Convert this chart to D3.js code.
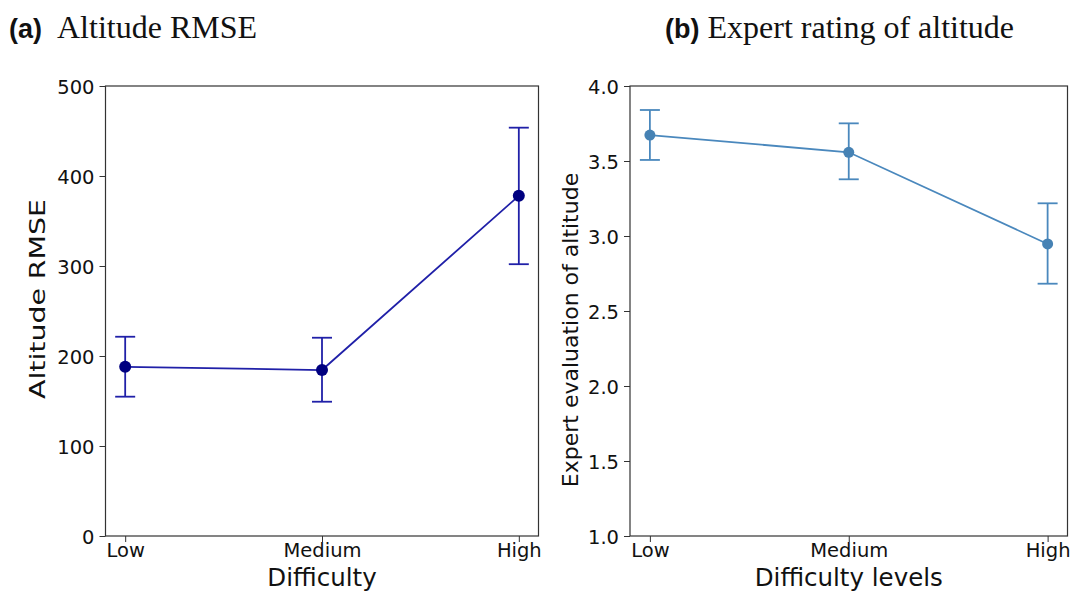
<!DOCTYPE html>
<html>
<head>
<meta charset="utf-8">
<script src="https://cdn.jsdelivr.net/npm/d3@7"></script>
<style>
  body { margin: 0; background: #fff; }
  svg { display: block; }
</style>
</head>
<body>
<script>
// values
var levels = ['Low', 'Medium', 'High'];

var rmseMean = [188, 184.4, 378];
var rmseLow = [154.8, 149.2, 302];
var rmseHigh = [221.4, 220.3, 453.7];
var rmseTicks = [0, 100, 200, 300, 400, 500];

var ratingMean = [3.673, 3.558, 2.947];
var ratingLow = [3.507, 3.378, 2.682];
var ratingHigh = [3.84, 3.751, 3.218];
var ratingTicks = [1.0, 1.5, 2.0, 2.5, 3.0, 3.5, 4.0];

var W = 1071, H = 592;
var TOP = 86, BOTTOM = 536;

var svg = d3.select('body').append('svg')
    .attr('width', W)
    .attr('height', H);

const drawPanel = (opt) => {
  var x = d3.scalePoint()
      .domain(levels)
      .range([opt.left, opt.right])
      .padding(0.1);
  var y = d3.scaleLinear()
      .domain(opt.domain)
      .range([BOTTOM, TOP]);

  var g = svg.append('g');

  // y axis
  var yAxis = d3.axisLeft(y).tickValues(opt.ticks).tickFormat(opt.fmt).tickSize(6).tickPadding(5);
  var ya = g.append('g')
      .attr('transform', 'translate(' + opt.left + ',0)')
      .call(yAxis);
  ya.select('.domain').remove();

  // x axis
  var xAxis = d3.axisBottom(x).tickSize(6).tickPadding(4);
  var xa = g.append('g')
      .attr('transform', 'translate(0,' + BOTTOM + ')')
      .call(xAxis);
  xa.select('.domain').remove();

  g.selectAll('.tick line').attr('stroke', '#333').attr('stroke-width', 1);
  g.selectAll('.tick text')
      .attr('fill', '#111')
      .style('font-family', 'DejaVu Sans')
      .style('font-size', '19.5px');
  ya.selectAll('.tick text').attr('dy', '0.36em');
  xa.selectAll('.tick text').attr('y', 6).attr('dy', '0.76em');

  // frame
  g.append('rect')
      .attr('x', opt.left)
      .attr('y', TOP)
      .attr('width', opt.right - opt.left)
      .attr('height', BOTTOM - TOP)
      .attr('fill', 'none')
      .attr('stroke', '#333')
      .attr('stroke-width', 1.2);

  var rows = levels.map((d, i) => ({ k: d, m: opt.mean[i], lo: opt.lo[i], hi: opt.hi[i] }));

  // error bars
  var eb = g.append('g').attr('stroke', opt.color).attr('stroke-width', 1.8);
  eb.selectAll('.v').data(rows).enter().append('line')
      .attr('x1', d => x(d.k)).attr('x2', d => x(d.k))
      .attr('y1', d => y(d.lo)).attr('y2', d => y(d.hi));
  eb.selectAll('.ct').data(rows).enter().append('line')
      .attr('x1', d => x(d.k) - 10).attr('x2', d => x(d.k) + 10)
      .attr('y1', d => y(d.hi)).attr('y2', d => y(d.hi));
  eb.selectAll('.cb').data(rows).enter().append('line')
      .attr('x1', d => x(d.k) - 10).attr('x2', d => x(d.k) + 10)
      .attr('y1', d => y(d.lo)).attr('y2', d => y(d.lo));

  // mean line
  g.append('path')
      .datum(rows)
      .attr('fill', 'none')
      .attr('stroke', opt.color)
      .attr('stroke-width', 1.8)
      .attr('d', d3.line().x(d => x(d.k)).y(d => y(d.m)));

  g.selectAll('circle').data(rows).enter().append('circle')
      .attr('cx', d => x(d.k))
      .attr('cy', d => y(d.m))
      .attr('r', opt.r)
      .attr('fill', opt.dot);

  // axis labels
  g.append('text')
      .attr('x', (opt.left + opt.right) / 2)
      .attr('y', 586)
      .attr('text-anchor', 'middle')
      .style('font-family', 'DejaVu Sans')
      .style('font-size', '24.5px')
      .attr('fill', '#111')
      .text(opt.xlabel);

  g.append('text')
      .attr('transform', 'translate(' + opt.ylabelX + ',' + opt.ylabelY + ') rotate(-90) scale(' + opt.ylabelStretch + ',1)')
      .attr('text-anchor', 'middle')
      .style('font-family', 'DejaVu Sans')
      .style('font-size', opt.ylabelSize + 'px')
      .attr('fill', '#111')
      .text(opt.ylabel);

  // panel title
  var t = g.append('text')
      .attr('x', opt.titleX)
      .attr('y', 38)
      .attr('fill', '#111');
  t.append('tspan')
      .style('font-family', 'Liberation Sans, Arial, sans-serif')
      .style('font-weight', 'bold')
      .style('font-size', '27px')
      .text(opt.tag);
  t.append('tspan')
      .attr('dx', opt.gap)
      .style('font-family', 'Liberation Serif, Times New Roman, serif')
      .style('font-size', '32px')
      .text(opt.title);
};

drawPanel({
  left: 105.5, right: 538.5,
  domain: [0, 500], ticks: rmseTicks, fmt: d3.format('d'),
  mean: rmseMean, lo: rmseLow, hi: rmseHigh,
  color: '#2020a8', dot: '#000080', r: 6,
  xlabel: 'Difficulty', ylabel: 'Altitude RMSE',
  ylabelX: 45, ylabelY: 299, ylabelSize: 21, ylabelStretch: 1.35,
  tag: '(a)', title: 'Altitude RMSE', titleX: 9, gap: 15
});

drawPanel({
  left: 630, right: 1067.5,
  domain: [1, 4], ticks: ratingTicks, fmt: d3.format('.1f'),
  mean: ratingMean, lo: ratingLow, hi: ratingHigh,
  color: '#4a88bd', dot: '#4682b4', r: 5.5,
  xlabel: 'Difficulty levels', ylabel: 'Expert evaluation of altitude',
  ylabelX: 578, ylabelY: 330, ylabelSize: 22, ylabelStretch: 1,
  tag: '(b)', title: 'Expert rating of altitude', titleX: 665, gap: 8
});
</script>
</body>
</html>
